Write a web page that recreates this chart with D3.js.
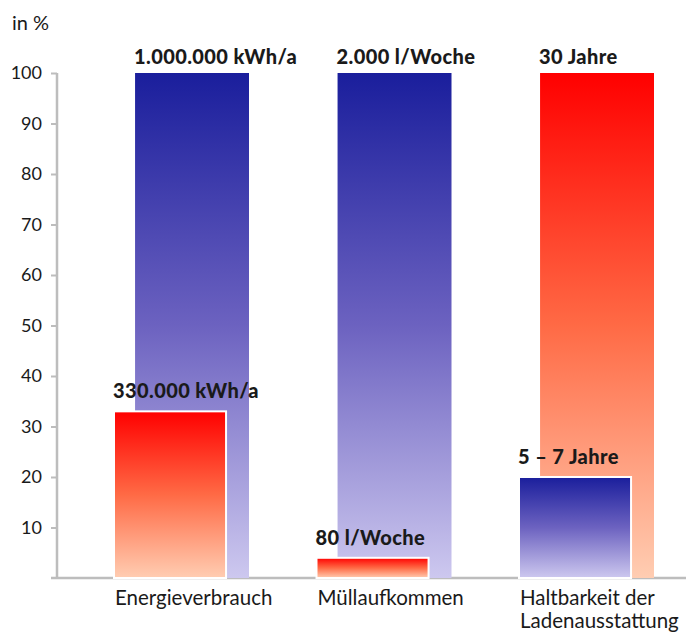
<!DOCTYPE html>
<html>
<head>
<meta charset="utf-8">
<script src="https://cdn.jsdelivr.net/npm/d3@7"></script>
<style>
  html, body { margin: 0; padding: 0; background: #fff; }
  svg { display: block; }
  text { fill: #1a1a1a; }
</style>
</head>
<body>
<svg id="chart" width="686" height="633"></svg>
<script>
// Chart data
const categories = ["Energieverbrauch", "Müllaufkommen", "Haltbarkeit der\nLadenausstattung"];
const backValues = [100, 100, 100];
const frontValues = [33, 4, 20];
const backLabels = ["1.000.000 kWh/a", "2.000 l/Woche", "30 Jahre"];
const frontLabels = ["330.000 kWh/a", "80 l/Woche", "5 – 7 Jahre"];
const backTone = ["blue", "blue", "red"];
const frontTone = ["red", "red", "blue"];
const yTicks = [10, 20, 30, 40, 50, 60, 70, 80, 90, 100];
const yUnit = "in %";

const svg = d3.select("#chart");
const W = 686, H = 633;

const y = d3.scaleLinear().domain([0, 100]).range([578, 73]);
const x = d3.scaleBand().domain(categories).range([114, 654])
  .paddingInner(1 / 3).paddingOuter(0);
const bw = x.bandwidth();

// Vertical gradients, one per tone, stretched over each bar
const defs = svg.append("defs");
const gradStops = {
  blue: [[0, "#1a1e9c"], [0.5, "#6c62c0"], [1, "#cdc8ef"]],
  red:  [[0, "#ff0000"], [0.5, "#ff6a45"], [1, "#ffcdb2"]]
};
Object.entries(gradStops).forEach(([k, stops]) => {
  const g = defs.append("linearGradient").attr("id", "grad-" + k)
    .attr("x1", 0).attr("y1", 0).attr("x2", 0).attr("y2", 1);
  stops.forEach(([o, c]) => g.append("stop").attr("offset", o).attr("stop-color", c));
});

const rows = categories.map((c, i) => ({
  cat: c, back: backValues[i], front: frontValues[i],
  backLabel: backLabels[i], frontLabel: frontLabels[i],
  backTone: backTone[i], frontTone: frontTone[i]
}));

// Axes
const axisColor = "#bdbdbd";
const yAxis = svg.append("g").attr("transform", "translate(57,0)")
  .call(d3.axisLeft(y).tickValues(yTicks).tickSize(6).tickPadding(9));
yAxis.select(".domain").remove();
yAxis.selectAll(".tick line").attr("stroke", axisColor).attr("stroke-width", 2);
yAxis.selectAll(".tick text")
  .attr("font-family", "Lato, sans-serif").attr("font-size", 18).attr("fill", "#1a1a1a");

svg.append("line").attr("x1", 57).attr("x2", 57).attr("y1", y(100)).attr("y2", y(0))
  .attr("stroke", axisColor).attr("stroke-width", 2.5);
svg.append("line").attr("x1", 51).attr("x2", W).attr("y1", y(0)).attr("y2", y(0))
  .attr("stroke", axisColor).attr("stroke-width", 2.5);

svg.append("text").attr("x", 12).attr("y", 30)
  .attr("font-family", "Lato, sans-serif").attr("font-size", 20).text(yUnit);

// Bars: tall reference bar behind, comparison bar in front
const g = svg.append("g");
const backOff = bw * 0.156, backW = bw * 0.844, frontW = bw * 0.83;

g.selectAll("rect.back").data(rows).join("rect").attr("class", "back")
  .attr("x", d => x(d.cat) + backOff).attr("width", backW)
  .attr("y", d => y(d.back)).attr("height", d => y(0) - y(d.back))
  .attr("fill", d => `url(#grad-${d.backTone})`);

g.selectAll("rect.front").data(rows).join("rect").attr("class", "front")
  .attr("x", d => x(d.cat)).attr("width", frontW)
  .attr("y", d => y(d.front)).attr("height", d => y(0) - y(d.front))
  .attr("fill", d => `url(#grad-${d.frontTone})`)
  .attr("stroke", "#fff").attr("stroke-width", 2);

// Value labels
const boldFont = "Lato, sans-serif";
g.selectAll("text.backlab").data(rows).join("text").attr("class", "backlab")
  .attr("x", d => x(d.cat) + backOff - 1).attr("y", d => y(d.back) - 9)
  .attr("font-family", boldFont).attr("font-weight", 900).attr("font-size", 20)
  .attr("letter-spacing", 0.4)
  .text(d => d.backLabel);

g.selectAll("text.frontlab").data(rows).join("text").attr("class", "frontlab")
  .attr("x", d => x(d.cat) - 1).attr("y", d => y(d.front) - 13)
  .attr("font-family", boldFont).attr("font-weight", 900).attr("font-size", 20)
  .attr("letter-spacing", 0.4)
  .text(d => d.frontLabel);

// Category labels
const cl = svg.selectAll("text.cat").data(rows).join("text").attr("class", "cat")
  .attr("x", d => x(d.cat) + 1).attr("y", 605)
  .attr("font-family", "Lato, sans-serif").attr("font-size", 20.5);
cl.selectAll("tspan").data(d => d.cat.split("\n")).join("tspan")
  .attr("x", function () { return d3.select(this.parentNode).attr("x"); })
  .attr("dy", (s, i) => i === 0 ? 0 : 23)
  .text(s => s);
</script>
</body>
</html>
